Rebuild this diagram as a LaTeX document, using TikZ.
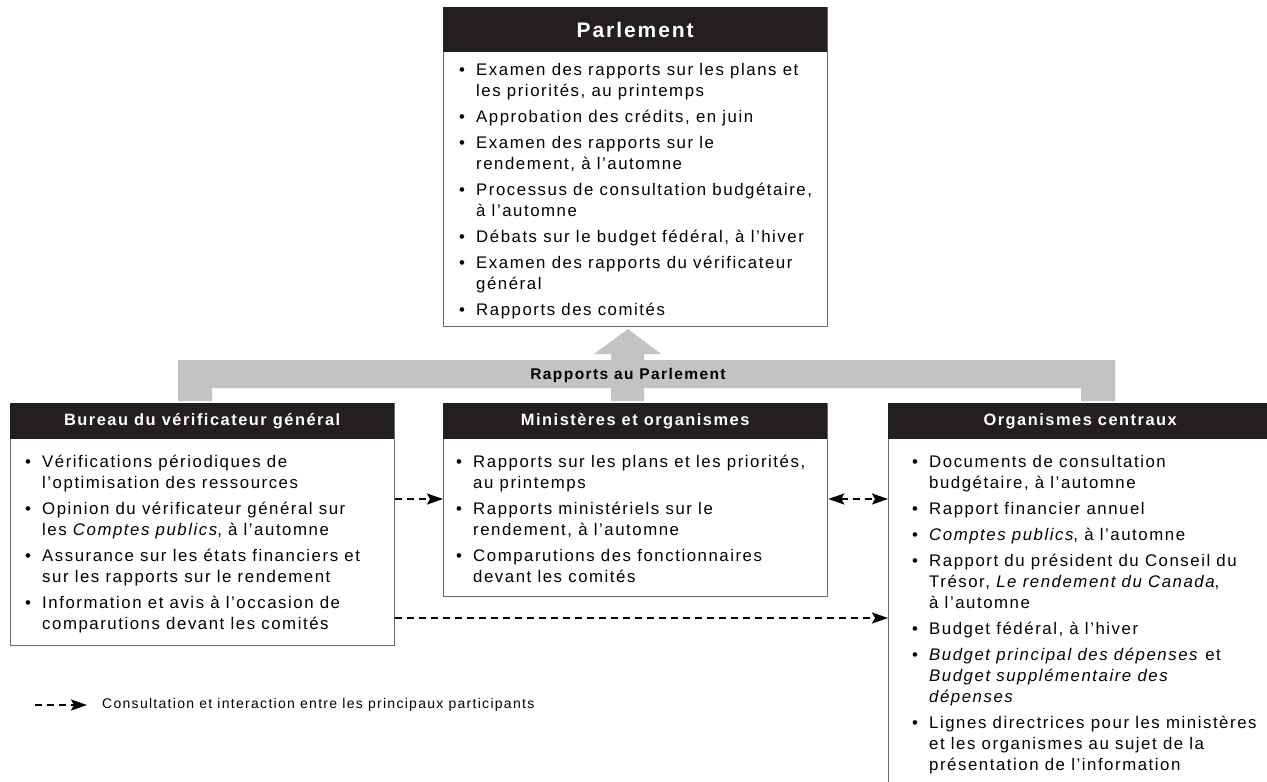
\documentclass[tikz,border=0pt]{standalone}
\usepackage{fontspec}
\setmainfont{Liberation Sans}[LetterSpace=9.2]
\usetikzlibrary{arrows, arrows.meta}
\usetikzlibrary{calc}

\definecolor{titrefond}{HTML}{231F20}
\definecolor{bordure}{HTML}{6A6A6A}
\definecolor{flechegris}{HTML}{C3C3C3}

\newenvironment{puces}{\begin{tabular}[t]{@{}p{17pt}@{}l@{}}}{\end{tabular}}

\begin{document}
\begin{tikzpicture}[x=1pt, y=-1pt,
    cadre/.style={draw=bordure, line width=1.3pt, anchor=north west, minimum width=384pt, inner sep=0pt},
    titre/.style={fill=titrefond, text=white, anchor=north west, minimum width=384pt, minimum height=36pt, inner sep=0pt, font=\fontsize{16.4}{20}\selectfont\bfseries},
    liste/.style={anchor=base west, inner sep=0pt, font=\fontsize{16.8}{21}\selectfont},
    consult/.style={line width=2.2pt, dash pattern=on 7pt off 5pt},
    >={Stealth[length=16pt, width=11pt, inset=3pt]}]
      \useasboundingbox (0,0) rectangle (1267,782);

      % grosse fleche grise
      \fill[flechegris] (178,401) -- (178,360) -- (611,360) -- (611,354) -- (594,354) -- (628,329)
        -- (661,354) -- (644,354) -- (644,360) -- (1115,360) -- (1115,401) -- (1081,401) -- (1081,388)
        -- (644,388) -- (644,401) -- (611,401) -- (611,388) -- (212,388) -- (212,401) -- cycle;
      \node[font=\fontsize{15.5}{18}\selectfont\bfseries] (rapports) at (628,375) {Rapports au Parlement};

      % Parlement
      \node[cadre, minimum height=319pt] (parlement) at (443,7) {};
      \node[titre, minimum height=45pt, font=\fontsize{21}{24}\selectfont\bfseries] (parlement-titre) at (443,7) {Parlement};
      \node[liste] (parlement-txt) at (459,75) {\begin{puces}
        • & Examen des rapports sur les plans et \\
          & les priorités, au printemps \\[5pt]
        • & Approbation des crédits, en juin \\[5pt]
        • & Examen des rapports sur le \\
          & rendement, à l’automne \\[5pt]
        • & Processus de consultation budgétaire, \\
          & à l’automne \\[5pt]
        • & Débats sur le budget fédéral, à l’hiver \\[5pt]
        • & Examen des rapports du vérificateur \\
          & général \\[5pt]
        • & Rapports des comités
      \end{puces}};

      % Bureau du verificateur general
      \node[cadre, minimum height=242pt] (bureau) at (10,403) {};
      \node[titre] (bureau-titre) at (10,403) {Bureau du vérificateur général};
      \node[liste] (bureau-txt) at (25,467) {\begin{puces}
        • & Vérifications périodiques de \\
          & l’optimisation des ressources \\[5pt]
        • & Opinion du vérificateur général sur \\
          & les \textit{Comptes publics}, à l’automne \\[5pt]
        • & Assurance sur les états financiers et \\
          & sur les rapports sur le rendement \\[5pt]
        • & Information et avis à l’occasion de \\
          & comparutions devant les comités
      \end{puces}};

      % Ministeres et organismes
      \node[cadre, minimum height=193pt] (ministeres) at (443,403) {};
      \node[titre] (ministeres-titre) at (443,403) {Ministères et organismes};
      \node[liste] (ministeres-txt) at (456,467) {\begin{puces}
        • & Rapports sur les plans et les priorités, \\
          & au printemps \\[5pt]
        • & Rapports ministériels sur le \\
          & rendement, à l’automne \\[5pt]
        • & Comparutions des fonctionnaires \\
          & devant les comités
      \end{puces}};

      % Organismes centraux
      \node[cadre, minimum height=420pt] (centraux) at (888,403) {};
      \node[titre] (centraux-titre) at (888,403) {Organismes centraux};
      \node[liste] (centraux-txt) at (912,467) {\begin{puces}
        • & Documents de consultation \\
          & budgétaire, à l’automne \\[5pt]
        • & Rapport financier annuel \\[5pt]
        • & \textit{Comptes publics}, à l’automne \\[5pt]
        • & Rapport du président du Conseil du \\
          & Trésor, \textit{Le rendement du Canada}, \\
          & à l’automne \\[5pt]
        • & Budget fédéral, à l’hiver \\[5pt]
        • & \textit{Budget principal des dépenses} et \\
          & \textit{Budget supplémentaire des} \\
          & \textit{dépenses} \\[5pt]
        • & Lignes directrices pour les ministères \\
          & et les organismes au sujet de la \\
          & présentation de l’information
      \end{puces}};

      % consultation
      \draw[consult, ->] ($(bureau.north east)+(0,96)$) -- ($(ministeres.north west)+(0,96)$);
      \draw[consult, <->] ($(ministeres.north east)+(0,96)$) -- ($(centraux.north west)+(0,96)$);
      \draw[consult, ->] ($(bureau.north east)+(0,215)$) -- ($(centraux.north west)+(0,215)$);

      % legende
      \coordinate (leg-a) at (35,705);
      \coordinate (leg-b) at (87,705);
      \draw[consult, ->] (leg-a) -- (leg-b);
      \node[anchor=west, inner sep=0pt, font=\fontsize{14}{16}\selectfont] (legende) at (102,705) {Consultation et interaction entre les principaux participants};
    \end{tikzpicture}
\end{document}
